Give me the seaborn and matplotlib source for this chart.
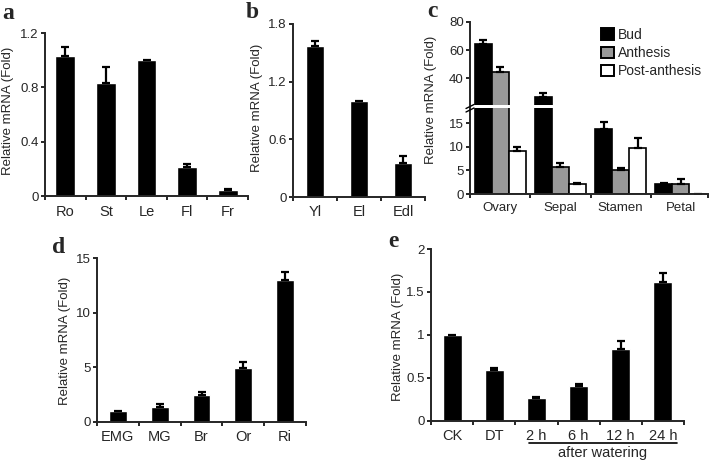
import numpy as np
import pandas as pd
import matplotlib
matplotlib.use("Agg")
import matplotlib.pyplot as plt
import matplotlib.patches as mpatches
import seaborn as sns

# a - organs
organs = ["Ro", "St", "Le", "Fl", "Fr"]
organ_val = [1.03, 0.835, 1.0, 0.22, 0.045]
organ_err = [0.07, 0.115, np.nan, 0.02, 0.013]

# b - leaves
leaves = ["Yl", "El", "Edl"]
leaf_val = [1.57, 1.0, 0.35]
leaf_err = [0.05, np.nan, 0.08]

# c - floral organs at three stages
floral = ["Ovary", "Sepal", "Stamen", "Petal"]
stages = ["Bud", "Anthesis", "Post-anthesis"]
bud_val = [64.3, 27.0, 13.8, 2.1]
bud_err = [3.2, 2.7, 1.5, 0.3]
anth_val = [44.7, 5.8, 5.1, 2.1]
anth_err = [3.6, 0.7, 0.5, 1.1]
post_val = [9.15, 2.1, 9.7, 0.0]
post_err = [0.85, 0.3, 2.2, np.nan]

# d - fruit stages
fruit = ["EMG", "MG", "Br", "Or", "Ri"]
fruit_val = [1.0, 1.38, 2.45, 4.95, 13.0]
fruit_err = [np.nan, 0.22, 0.3, 0.5, 0.7]

# e - drought and rewatering
treat = ["CK", "DT", "2 h", "6 h", "12 h", "24 h"]
treat_val = [1.0, 0.59, 0.26, 0.40, 0.84, 1.62]
treat_err = [np.nan, 0.02, 0.02, 0.025, 0.09, 0.10]

YLAB = "Relative mRNA (Fold)"
W, H = 709, 461

sns.set_style("ticks")
plt.rcParams["font.family"] = ["Liberation Sans", "DejaVu Sans"]
plt.rcParams["axes.linewidth"] = 1.4

fig = plt.figure(figsize=(W / 100, H / 100), dpi=100)


def add_ax(l, t, r, b):
    # axes placed from pixel edges
    return fig.add_axes([l / W, 1 - b / H, (r - l) / W, (b - t) / H])


def style(ax, n, ylim, yticks, ylabels, xmax=None, xsize=10.5):
    xmax = n - 0.5 if xmax is None else xmax
    ax.set_xlim(-0.5, xmax)
    ax.set_ylim(*ylim)
    ax.set_yticks(yticks)
    ax.set_yticklabels(ylabels)
    ax.set_xticks(list(np.arange(n) - 0.5) + [xmax], minor=True)
    ax.tick_params(axis="x", which="major", length=0, pad=6, labelsize=xsize)
    ax.tick_params(axis="x", which="minor", length=3, width=1.4, direction="out")
    ax.tick_params(axis="y", length=3, width=1.4, pad=1.5, labelsize=9.5, direction="out")
    ax.set_xlabel("")
    ax.set_ylabel("")
    sns.despine(ax=ax)


def add_err(ax, x, vals, errs):
    errs = np.asarray(errs, dtype=float)
    ax.errorbar(x, vals, yerr=[np.zeros(len(errs)), errs], fmt="none",
                ecolor="black", elinewidth=1.6, capsize=3, capthick=1.6)


def simple_panel(box, cats, vals, errs, width, ylim, yticks, ylabels, lab_xy):
    ax = add_ax(*box)
    sns.barplot(x=cats, y=vals, color="black", width=width, saturation=1,
                errorbar=None, ax=ax)
    add_err(ax, np.arange(len(cats)), vals, errs)
    style(ax, len(cats), ylim, yticks, ylabels)
    l, t, r, b = box
    ax.set_ylabel(YLAB, fontsize=9.5, va="center")
    ax.yaxis.set_label_coords((lab_xy[0] - l) / (r - l), (b - lab_xy[1]) / (b - t))
    return ax


# a
ax_a = simple_panel((45, 33, 248, 196.5), organs, organ_val, organ_err, 0.49,
                    (0, 1.2), [0, 0.4, 0.8, 1.2], ["0", "0.4", "0.8", "1.2"], (8, 111))

# b
ax_b = simple_panel((293, 24, 425, 197), leaves, leaf_val, leaf_err, 0.41,
                    (0, 1.8), [0, 0.6, 1.2, 1.8], ["0", "0.6", "1.2", "1.8"], (257, 108))

# d
ax_d = simple_panel((97, 258, 306, 421.7), fruit, fruit_val, fruit_err, 0.43,
                    (0, 15), [0, 5, 10, 15], ["0", "5", "10", "15"], (65, 341))

# e
ax_e = simple_panel((431, 249, 684, 420.7), treat, treat_val, treat_err, 0.45,
                    (0, 2), [0, 0.5, 1, 1.5, 2], ["0", "0.5", "1", "1.5", "2"], (398, 337))
ax_e.plot([1.82, 5.33], [-0.128, -0.128], color="black", lw=1.2,
          transform=ax_e.get_xaxis_transform(), clip_on=False)
ax_e.text(3.58, -0.19, "after watering", transform=ax_e.get_xaxis_transform(),
          ha="center", va="center", fontsize=10.5)

# c - broken axis
df_c = pd.DataFrame({
    "tissue": floral * 3,
    "stage": [s for s in stages for _ in floral],
    "value": bud_val + anth_val + post_val,
})
errs_c = [bud_err, anth_err, post_err]
vals_c = [bud_val, anth_val, post_val]
cols_c = ["black", "#999999", "white"]

ax_up = add_ax(470, 22, 708, 105)
ax_lo = add_ax(470, 108, 708, 194)
for ax in (ax_up, ax_lo):
    sns.barplot(data=df_c, x="tissue", y="value", hue="stage", order=floral,
                hue_order=stages, palette=cols_c, edgecolor="black", linewidth=1.2,
                width=0.85, saturation=1, errorbar=None, legend=False, ax=ax)
    for cont, v, e in zip(ax.containers, vals_c, errs_c):
        xs = [p.get_x() + p.get_width() / 2 for p in cont]
        add_err(ax, xs, v, e)

style(ax_lo, 4, (0, 18.2), [0, 5, 10, 15], ["0", "5", "10", "15"], xmax=3.45, xsize=9.5)
style(ax_up, 4, (21, 80), [40, 60, 80], ["40", "60", "80"], xmax=3.45)
ax_up.spines["bottom"].set_visible(False)
ax_up.tick_params(axis="x", which="both", length=0, labelbottom=False)
ax_lo.set_ylabel(YLAB, fontsize=9.5, va="center")
ax_lo.yaxis.set_label_coords((431 - 470) / 238, (194 - 100) / 86)

# break marks on the y spine
for dy in (0, 3.5):
    fig.add_artist(plt.Line2D([466 / W, 474 / W], [1 - (108.5 + dy) / H, 1 - (104.5 + dy) / H],
                              transform=fig.transFigure, color="black", lw=1))

handles = [mpatches.Patch(facecolor=c, edgecolor="black", linewidth=1.4, label=s)
           for c, s in zip(cols_c, stages)]
ax_up.legend(handles=handles, loc="upper left", bbox_to_anchor=(601 / W, 1 - 28 / H),
             bbox_transform=fig.transFigure, frameon=False, fontsize=10,
             handlelength=0.9, handleheight=0.9, handletextpad=0.3,
             labelspacing=0.3, borderpad=0, borderaxespad=0)

# panel letters
for letter, x, y in [("a", 2, 19), ("b", 246, 18), ("c", 427, 17),
                     ("d", 52, 253), ("e", 388, 247)]:
    fig.text(x / W, 1 - y / H, letter, fontsize=17, fontweight="bold",
             family="Liberation Serif", va="baseline")

fig.savefig("out.png", dpi=100)
